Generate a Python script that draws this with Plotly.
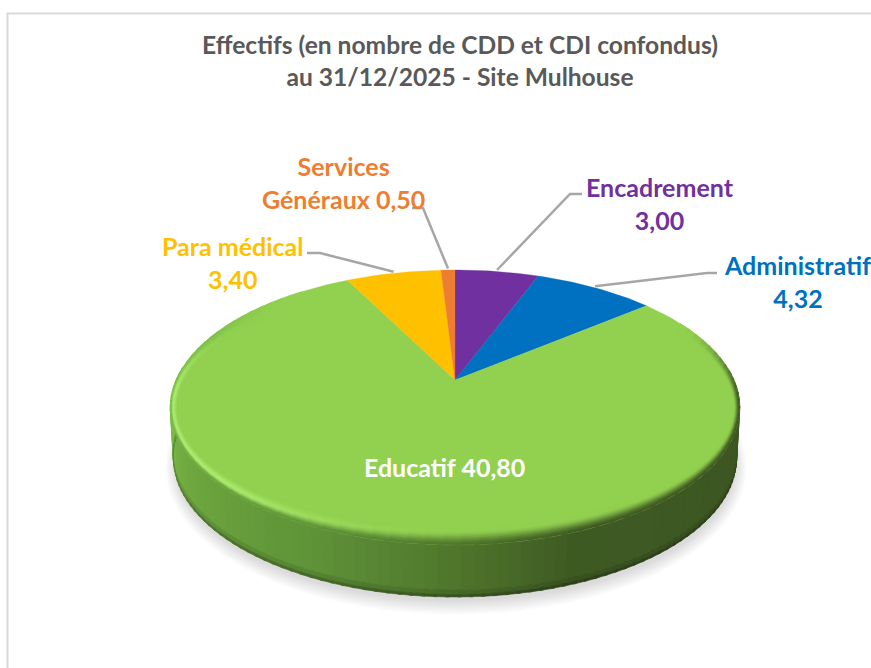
import math
import numpy as np
import plotly.graph_objects as go

# ---- data -------------------------------------------------------------
categories = ["Encadrement", "Administratif", "Educatif", "Para médical", "Services Généraux"]
values = [3.00, 4.32, 40.80, 3.40, 0.50]
value_labels = ["3,00", "4,32", "40,80", "3,40", "0,50"]
slice_colors = ["#7030A0", "#0070C0", "#92D050", "#FFC000", "#ED7D31"]
title_lines = ["Effectifs (en nombre de CDD et CDI confondus)", "au 31/12/2025 - Site Mulhouse"]

# ---- 3D projection of the disc (plot units = pixels) --------------------
CX, CY, A, B, K = 455.0, 380.0, 279.0, 132.0, 0.2
BOT_CY, BOT_A, BOT_B = 430.0, 276.0, 133.6
W, H = 871, 668
FONT = "Lato"


def project(theta_deg, r=1.0, cx=CX, cy=CY, a=A, b=B):
    t = np.radians(theta_deg)
    u, v = r * np.sin(t), r * np.cos(t)
    w = 1 + K * v
    return cx + a * u / w, cy - b * v / w


def hexrgb(h):
    return np.array([int(h[i:i + 2], 16) for i in (1, 3, 5)], float)


def css(c):
    c = np.clip(c, 0, 255)
    return "rgb(%d,%d,%d)" % tuple(int(round(x)) for x in c)


SIDE_T = [85, 100, 160, 180, 205, 240, 265, 280]
SIDE_C = np.array([hexrgb(h) for h in ["#3D5522", "#3D5522", "#3E5A23", "#4F762C", "#5F9338", "#6FA83F", "#7DBF49", "#7DBF49"]])


def side_color(theta):
    return np.array([np.interp(theta, SIDE_T, SIDE_C[:, i]) for i in range(3)])


def smooth(x, a, b):
    s = min(max((x - a) / (b - a), 0.0), 1.0)
    return s * s * (3 - 2 * s)


traces = []


def poly(xs, ys, color, name=None, edge=1.0):
    xs, ys = list(xs), list(ys)
    traces.append(go.Scatter(
        x=xs + xs[:1], y=ys + ys[:1], mode="lines", fill="toself", fillcolor=color,
        line=dict(color=color, width=edge), hoverinfo="skip", showlegend=False, name=name))


# soft shadow
for i in range(12):
    grow = 1 + 1.0 * i
    th = np.linspace(0, 360, 121)
    sx, sy = project(th, 1.0, CX + 1, BOT_CY + 8, BOT_A + 10 - grow, BOT_B + 9 - grow)
    poly(sx, sy, "rgba(0,0,0,0.011)", edge=0)

# side wall
STEP = 2.0
bands = [(0.0, 0.86, 1.0), (0.86, 0.95, 0.9), (0.95, 1.0, 0.72)]
for th0 in np.arange(85, 275, STEP):
    th1 = th0 + STEP + 0.6
    c = side_color(th0 + STEP / 2)
    tx0, ty0 = project(th0)
    tx1, ty1 = project(th1)
    bx0, by0 = project(th0, 1.0, CX, BOT_CY, BOT_A, BOT_B)
    bx1, by1 = project(th1, 1.0, CX, BOT_CY, BOT_A, BOT_B)
    for s0, s1, f in bands:
        poly([tx0 + (bx0 - tx0) * s0, tx1 + (bx1 - tx1) * s0, tx1 + (bx1 - tx1) * s1, tx0 + (bx0 - tx0) * s1],
             [ty0 + (by0 - ty0) * s0, ty1 + (by1 - ty1) * s0, ty1 + (by1 - ty1) * s1, ty0 + (by0 - ty0) * s1],
             css(c * f), edge=0.6)

# top face: each slice spans an angle proportional to its value
total = sum(values)
start = 0.0
mid_angles = {}
for cat, val, col in zip(categories, values, slice_colors):
    sweep = val / total * 360.0
    th = np.linspace(start, start + sweep, max(3, int(sweep) + 2))
    ex, ey = project(th)
    poly([CX] + list(ex), [CY] + list(ey), col, name=cat, edge=0.3)
    mid_angles[cat] = start + sweep / 2
    start += sweep

# bevel on the green rim
ELL_X, ELL_Y = 455.0, 407.0
base = hexrgb("#92D050")
light = hexrgb("#AEF074")
RINGS = 10
SEG = 3.0
edu_start = (values[0] + values[1]) / total * 360
edu_end = edu_start + values[2] / total * 360


def rim_point(theta, t):
    x, y = project(theta)
    sx = 0.975 + 0.025 * t
    sy = 0.87 + 0.13 * t
    return ELL_X + (x - ELL_X) * sx, ELL_Y + (y - ELL_Y) * sy


def rim_color(theta, t):
    m = smooth(theta, 62, 100) * (1 - smooth(theta, 285, 318))
    h = smooth(theta, 170, 235) * (1 - smooth(theta, 262, 300))
    edge = side_color(theta)
    bump = math.sin(min(t / 0.72, 1.0) * math.pi / 2) ** 2 * (1 - smooth(t, 0.72, 1.0))
    c = base + (light - base) * h * bump
    close = smooth(t, 0.2 + 0.4 * h, 1.0)
    return c + (edge - c) * close * m


for th0 in np.arange(max(edu_start, 62), min(edu_end, 318), SEG):
    th1 = th0 + SEG + 0.8
    thm = th0 + SEG / 2
    for i in range(RINGS):
        t0, t1 = i / RINGS, (i + 1.3) / RINGS
        t1 = min(t1, 1.0)
        p = [rim_point(th0, t0), rim_point(th1, t0), rim_point(th1, t1), rim_point(th0, t1)]
        poly([q[0] for q in p], [q[1] for q in p], css(rim_color(thm, (i + 0.5) / RINGS)), edge=0.4)

fig = go.Figure(traces)

# ---- leader lines: start on the rim at the slice's mid-angle ------------
elbows = {
    "Encadrement": [(570, 194), (582, 194)],
    "Administratif": [(707, 273), (717, 273)],
    "Para médical": [(320, 253), (307, 253)],
    "Services Généraux": [(423, 208), (412, 208)],
}
shapes = [dict(type="rect", xref="x", yref="y", x0=7.5, y0=13.5, x1=W + 20, y1=H + 20,
               line=dict(color="#D9D9D9", width=2), fillcolor="rgba(0,0,0,0)", layer="below")]
for cat, pts in elbows.items():
    sx, sy = project(mid_angles[cat])
    path = "M%.1f,%.1f " % (sx, sy - 1.5) + " ".join("L%.1f,%.1f" % p for p in pts)
    shapes.append(dict(type="path", path=path, xref="x", yref="y", line=dict(color="#A6A6A6", width=2.5)))

# ---- labels -------------------------------------------------------------
label_pos = {
    "Encadrement": (660, 203),
    "Administratif": (797, 281),
    "Educatif": (444, 467),
    "Para médical": (232, 262),
    "Services Généraux": (343, 182),
}
annotations = []
for cat, val_lab, col in zip(categories, value_labels, slice_colors):
    x, y = label_pos[cat]
    if cat == "Educatif":
        text, colour = "%s %s" % (cat, val_lab), "#FFFFFF"
    elif cat == "Services Généraux":
        text, colour = "Services<br>Généraux %s" % val_lab, col
    else:
        text, colour = "%s<br>%s" % (cat, val_lab), col
    annotations.append(dict(x=x, y=y, xref="x", yref="y", text="<b>%s</b>" % text, showarrow=False,
                            font=dict(family=FONT, size=25, color=colour), align="center",
                            xanchor="center", yanchor="middle"))

fig.update_layout(
    width=W, height=H, margin=dict(l=0, r=0, t=0, b=0),
    paper_bgcolor="white", plot_bgcolor="white", showlegend=False,
    title=dict(text="<b>%s<br>%s</b>" % tuple(title_lines), x=460 / W, xanchor="center",
               y=1 - 54 / H, yanchor="middle", font=dict(family=FONT, size=24.6, color="#595959")),
    xaxis=dict(range=[0, W], visible=False, fixedrange=True),
    yaxis=dict(range=[H, 0], visible=False, fixedrange=True),
    shapes=shapes, annotations=annotations,
)
fig.write_html("out.html", config={"displayModeBar": False},
               post_script="document.body.style.margin='0';document.body.style.overflow='hidden';")
